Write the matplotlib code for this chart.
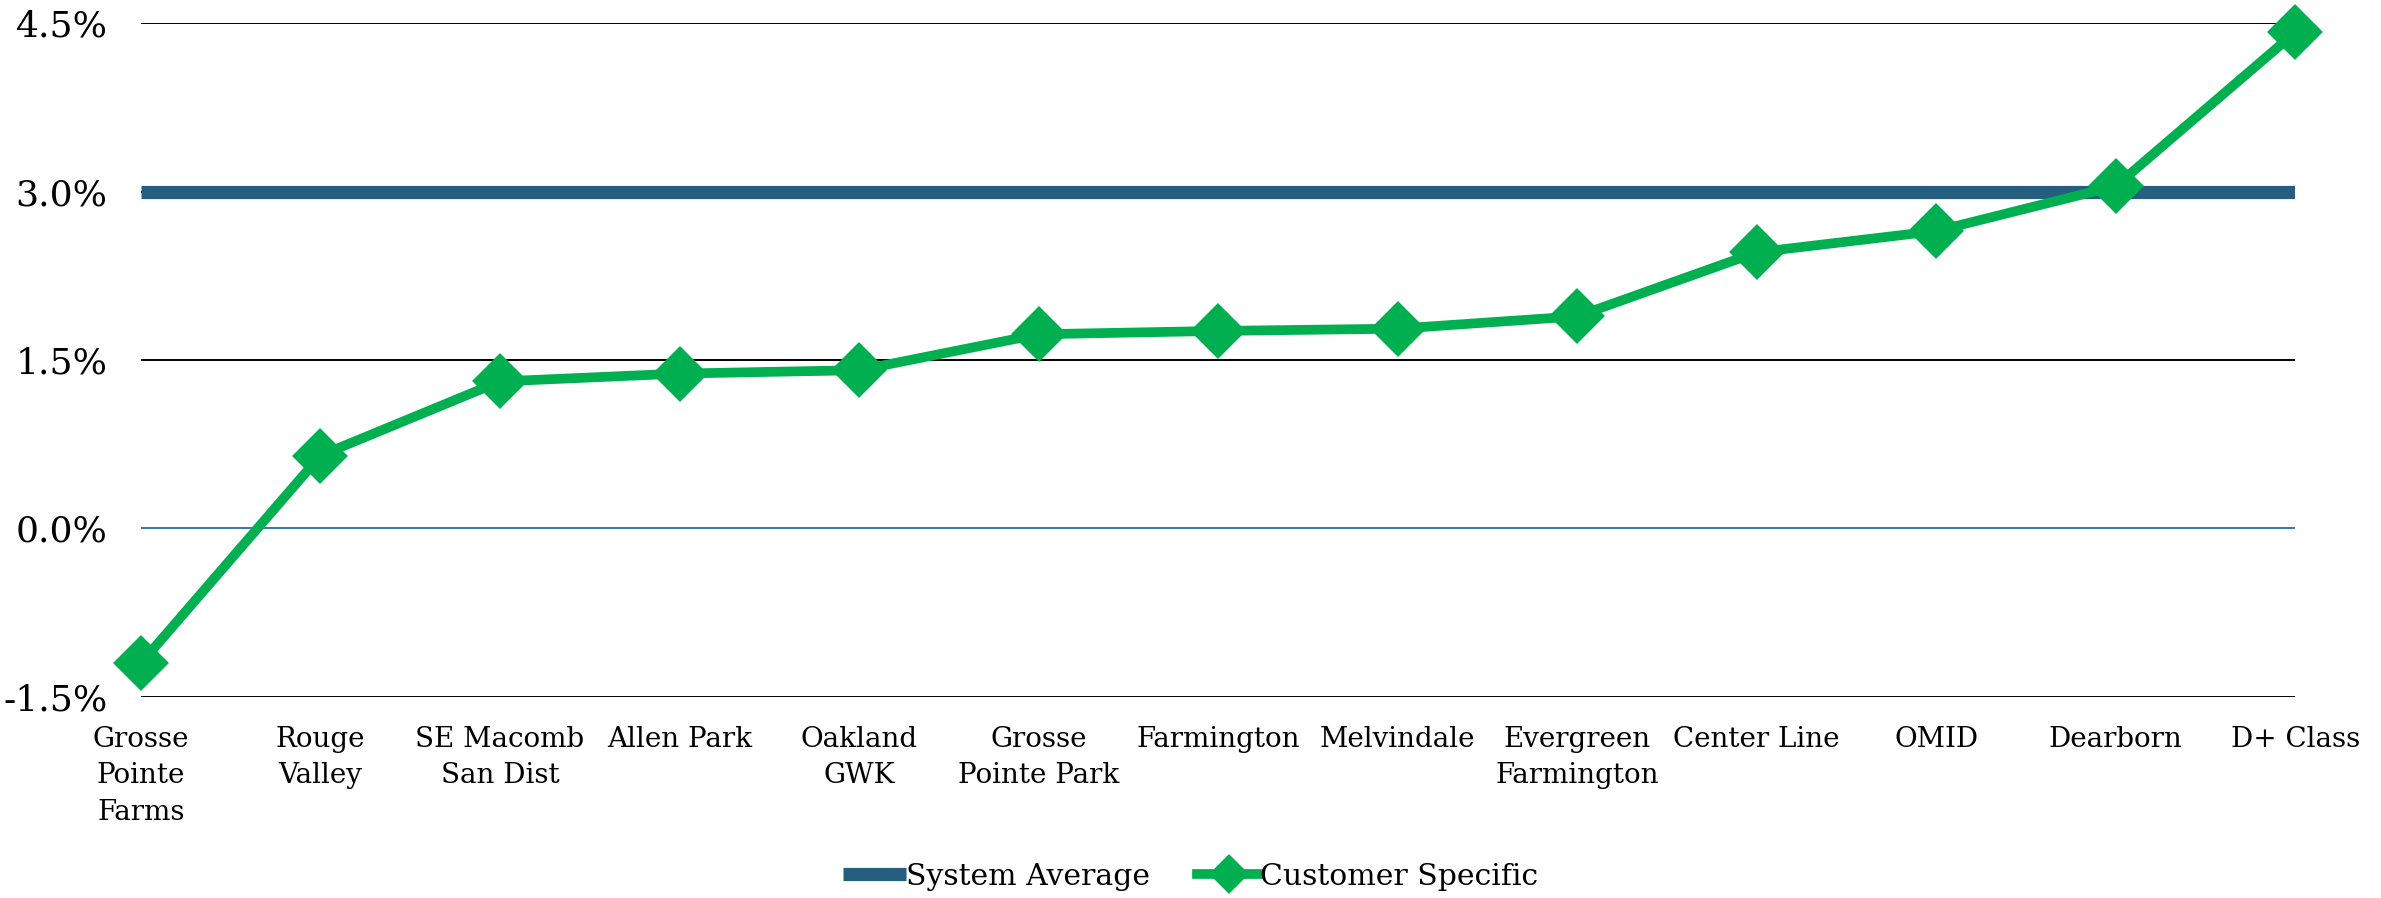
import matplotlib
matplotlib.use("Agg")
import matplotlib.pyplot as plt
from matplotlib.ticker import FuncFormatter

categories = ["Grosse\nPointe\nFarms", "Rouge\nValley", "SE Macomb\nSan Dist", "Allen Park",
              "Oakland\nGWK", "Grosse\nPointe Park", "Farmington", "Melvindale",
              "Evergreen\nFarmington", "Center Line", "OMID", "Dearborn", "D+ Class"]
customer_specific = [-1.20, 0.65, 1.31, 1.38, 1.41, 1.73, 1.76, 1.78, 1.89, 2.46, 2.65, 3.05, 4.42]
system_average = [3.0] * len(categories)
y_ticks = [-1.5, 0.0, 1.5, 3.0, 4.5]

BLUE = "#255E7F"
GREEN = "#00B050"

plt.rcParams["font.family"] = ["DejaVu Serif"]

fig = plt.figure(figsize=(23.81, 8.98), dpi=100)
ax = fig.add_axes([0.0592, 0.224, 0.9048, 0.750])

x = list(range(len(categories)))

for t in y_ticks:
    if t == 0.0:
        ax.axhline(t, color="#2A6CA8", lw=1.3, zorder=1)
    else:
        ax.axhline(t, color="black", lw=1.4, zorder=1)

ax.plot(x, system_average, color=BLUE, lw=9.5, solid_capstyle="butt",
        label="System Average", zorder=2)
ax.plot(x, customer_specific, color=GREEN, lw=7, marker="D", markersize=25,
        markeredgewidth=3, markeredgecolor=GREEN, solid_joinstyle="round",
        label="Customer Specific", zorder=3, clip_on=False)

ax.set_xlim(0, len(categories) - 1)
ax.set_ylim(-1.5, 4.5)
ax.set_yticks(y_ticks)
ax.yaxis.set_major_formatter(FuncFormatter(lambda v, p: f"{v:.1f}%"))
ax.set_xticks(x)
ax.set_xticklabels(categories, fontsize=20, linespacing=1.45, va="top")
ax.tick_params(axis="y", length=0, pad=24, labelsize=26)
ax.tick_params(axis="x", length=0, pad=21)
for s in ax.spines.values():
    s.set_visible(False)

leg = fig.legend(loc="lower center", bbox_to_anchor=(0.5, -0.022), ncol=2, frameon=False,
                 fontsize=21.5, handlelength=2.1, handletextpad=0.0, columnspacing=1.6,
                 markerscale=0.7)

fig.savefig("out.png", dpi=100)
